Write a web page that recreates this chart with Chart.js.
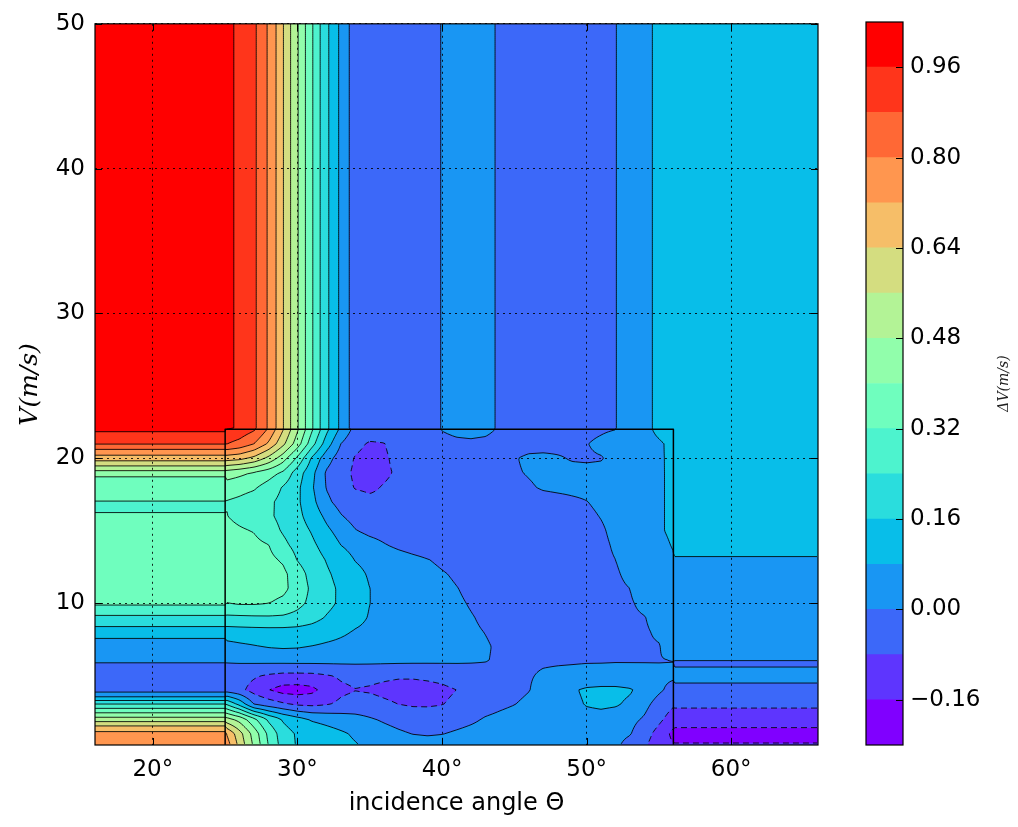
<!DOCTYPE html>
<html>
<head>
<meta charset="utf-8">
<title>dV contour</title>
<script src="https://cdn.jsdelivr.net/npm/chart.js@4.4.1/dist/chart.umd.min.js"></script>
<style>
  html, body { margin: 0; padding: 0; background: #fff; }
  #page { position: relative; width: 1018px; height: 827px; }
  #main { position: absolute; left: 0; top: 0; }
  #bar { position: absolute; left: 840px; top: 0; }
</style>
</head>
<body>
<div id="page">
  <canvas id="main" width="840" height="827"></canvas>
  <canvas id="bar" width="178" height="827"></canvas>
</div>
<script>
// axis ticks
const angleTicks = [20, 30, 40, 50, 60];
const speedTicks = [10, 20, 30, 40, 50];

// contour levels and colorbar ticks
const levels = [-0.24, -0.16, -0.08, 0, 0.08, 0.16, 0.24, 0.32, 0.40, 0.48, 0.56, 0.64, 0.72, 0.80, 0.88, 0.96, 1.04];
const cbTicks = [-0.16, 0, 0.16, 0.32, 0.48, 0.64, 0.80, 0.96];

// measured box (angle / speed range of the data)
const boxAngle = [25, 56];
const boxSpeed = [0, 22];

// above the box: dV depends on angle only
const topAngle = [16, 25, 25.5, 26, 26.5, 27, 27.5, 28, 28.5, 29, 29.5, 30, 30.5, 31, 31.5, 32, 32.5, 33, 33.5, 34, 35, 37, 39, 40, 41, 43, 44, 46, 50, 52, 53, 54, 55, 56, 66];
const topDv = [1.0, 0.99, 0.965, 0.94, 0.917, 0.893, 0.85, 0.788, 0.724, 0.645, 0.564, 0.488, 0.408, 0.33, 0.25, 0.18, 0.12, 0.063, 0.005, -0.025, -0.04, -0.045, -0.02, 0.002, 0.015, 0.012, -0.006, -0.03, -0.03, -0.002, 0.03, 0.062, 0.095, 0.12, 0.12];

// left of the box: dV depends on speed only
const leftSpeed = [0.2, 0.5, 1, 1.5, 2, 2.5, 3, 3.5, 4, 4.5, 5, 5.5, 6, 6.5, 7, 7.5, 8, 8.5, 9, 9.5, 10, 11, 12, 13, 14, 15, 16, 16.5, 17, 17.5, 18, 18.5, 19, 19.5, 20, 20.5, 21, 21.5, 22];
const leftDv = [0.78, 0.765, 0.745, 0.645, 0.51, 0.38, 0.25, 0.085, -0.035, -0.04, -0.035, -0.015, 0.005, 0.03, 0.052, 0.074, 0.12, 0.173, 0.223, 0.28, 0.335, 0.36, 0.37, 0.37, 0.36, 0.35, 0.33, 0.31, 0.318, 0.34, 0.355, 0.365, 0.445, 0.567, 0.68, 0.775, 0.885, 0.93, 0.975];

// right of the box: dV depends on speed only
const rightSpeed = [0.2, 0.5, 1, 1.5, 2, 2.5, 3, 3.5, 4, 4.5, 5, 5.5, 5.75, 6, 6.5, 7, 9, 11, 13, 14, 16, 22];
const rightDv = [-0.15, -0.172, -0.18, -0.155, -0.12, -0.09, -0.07, -0.05, -0.025, 0.002, 0.012, 0.002, -0.004, -0.001, 0.012, 0.02, 0.04, 0.06, 0.076, 0.095, 0.11, 0.12];

// inside the box: dV on an angle x speed grid (rows = speed 0..22)
const gridAngle = [25, 26, 27, 28, 29, 30, 31, 32, 33, 34, 35, 36, 37, 38, 39, 40, 41, 42, 43, 44, 45, 46, 47, 48, 49, 50, 51, 52, 53, 54, 55, 56];
const gridSpeed = [0, 1, 2, 3, 4, 5, 6, 7, 8, 9, 10, 11, 12, 13, 14, 15, 16, 17, 18, 19, 20, 21, 22];
const gridDv = [
  [0.79, 0.62, 0.469, 0.32, 0.208, 0.153, 0.137, 0.121, 0.104, 0.088, 0.075, 0.065, 0.055, 0.045, 0.04, 0.04, 0.045, 0.048, 0.05, 0.05, 0.048, 0.045, 0.042, 0.04, 0.037, 0.033, 0.027, 0.01, -0.03, -0.075, -0.13, -0.15],
  [0.73, 0.588, 0.445, 0.30, 0.196, 0.15, 0.13, 0.11, 0.09, 0.07, 0.045, 0.025, 0.01, -0.003, -0.008, -0.003, 0.008, 0.018, 0.025, 0.03, 0.035, 0.035, 0.035, 0.035, 0.035, 0.035, 0.03, 0.02, 0.005, -0.045, -0.11, -0.18],
  [0.51, 0.447, 0.335, 0.222, 0.149, 0.103, 0.07, 0.055, 0.04, 0.025, 0.006, -0.01, -0.025, -0.035, -0.04, -0.035, -0.025, -0.012, 0.005, 0.015, 0.025, 0.03, 0.035, 0.04, 0.045, 0.05, 0.05, 0.04, 0.02, -0.008, -0.06, -0.12],
  [0.25, 0.14, 0.0, -0.035, -0.065, -0.09, -0.095, -0.085, -0.065, -0.05, -0.05, -0.065, -0.08, -0.088, -0.088, -0.082, -0.065, -0.045, -0.025, -0.012, -0.001, 0.012, 0.025, 0.04, 0.06, 0.085, 0.095, 0.088, 0.065, 0.02, -0.03, -0.07],
  [-0.035, -0.06, -0.11, -0.158, -0.19, -0.195, -0.18, -0.13, -0.095, -0.082, -0.088, -0.1, -0.11, -0.11, -0.105, -0.095, -0.08, -0.06, -0.04, -0.025, -0.015, -0.002, 0.02, 0.045, 0.07, 0.093, 0.1, 0.1, 0.088, 0.05, 0.012, -0.025],
  [-0.035, -0.05, -0.07, -0.088, -0.1, -0.1, -0.098, -0.085, -0.07, -0.06, -0.06, -0.065, -0.07, -0.07, -0.065, -0.058, -0.045, -0.035, -0.027, -0.02, -0.012, -0.004, 0.006, 0.01, 0.012, 0.015, 0.017, 0.017, 0.016, 0.015, 0.013, 0.012],
  [0.005, 0.01, 0.014, 0.017, 0.019, 0.02, 0.02, 0.019, 0.018, 0.017, 0.016, 0.015, 0.014, 0.013, 0.012, 0.011, 0.009, 0.006, 0.002, -0.006, -0.008, -0.008, -0.006, -0.005, -0.004, -0.003, -0.003, -0.002, -0.002, -0.002, -0.002, -0.001],
  [0.052, 0.065, 0.075, 0.085, 0.09, 0.087, 0.078, 0.07, 0.064, 0.058, 0.053, 0.048, 0.043, 0.038, 0.032, 0.026, 0.019, 0.012, 0.004, -0.006, -0.01, -0.01, -0.01, -0.01, -0.01, -0.01, -0.01, -0.01, -0.008, -0.006, -0.003, 0.03],
  [0.12, 0.125, 0.128, 0.13, 0.13, 0.128, 0.12, 0.105, 0.09, 0.075, 0.067, 0.059, 0.05, 0.041, 0.033, 0.024, 0.016, 0.007, -0.001, -0.01, -0.015, -0.015, -0.015, -0.015, -0.013, -0.012, -0.01, -0.009, -0.008, -0.006, 0.008, 0.04],
  [0.223, 0.225, 0.228, 0.23, 0.228, 0.215, 0.19, 0.154, 0.126, 0.097, 0.076, 0.065, 0.055, 0.045, 0.034, 0.024, 0.013, 0.003, -0.008, -0.015, -0.02, -0.02, -0.02, -0.02, -0.018, -0.015, -0.012, -0.01, -0.008, -0.002, 0.02, 0.05],
  [0.318, 0.33, 0.33, 0.322, 0.3, 0.262, 0.221, 0.183, 0.147, 0.113, 0.08, 0.068, 0.056, 0.044, 0.032, 0.02, 0.008, -0.004, -0.015, -0.02, -0.025, -0.025, -0.025, -0.022, -0.02, -0.017, -0.014, -0.01, -0.005, 0.012, 0.035, 0.058],
  [0.37, 0.37, 0.365, 0.355, 0.34, 0.285, 0.226, 0.184, 0.147, 0.113, 0.08, 0.067, 0.054, 0.041, 0.028, 0.015, 0.002, -0.012, -0.02, -0.028, -0.03, -0.03, -0.03, -0.028, -0.025, -0.02, -0.015, -0.01, 0.0, 0.03, 0.05, 0.066],
  [0.37, 0.37, 0.365, 0.355, 0.34, 0.275, 0.214, 0.172, 0.135, 0.098, 0.073, 0.06, 0.046, 0.033, 0.019, 0.005, -0.008, -0.018, -0.025, -0.03, -0.035, -0.035, -0.035, -0.03, -0.025, -0.02, -0.012, -0.006, 0.012, 0.035, 0.055, 0.072],
  [0.365, 0.36, 0.355, 0.34, 0.309, 0.236, 0.196, 0.156, 0.114, 0.077, 0.062, 0.047, 0.032, 0.017, 0.002, -0.012, -0.022, -0.03, -0.035, -0.04, -0.04, -0.04, -0.035, -0.03, -0.025, -0.018, -0.01, 0.0, 0.02, 0.04, 0.06, 0.076],
  [0.355, 0.35, 0.34, 0.322, 0.26, 0.213, 0.175, 0.13, 0.08, 0.055, 0.03, 0.005, -0.015, -0.03, -0.04, -0.045, -0.05, -0.05, -0.05, -0.05, -0.045, -0.04, -0.035, -0.03, -0.025, -0.02, -0.01, 0.006, 0.025, 0.045, 0.068, 0.083],
  [0.345, 0.33, 0.316, 0.274, 0.232, 0.194, 0.154, 0.097, 0.049, 0.004, -0.02, -0.03, -0.04, -0.045, -0.05, -0.05, -0.05, -0.05, -0.05, -0.05, -0.045, -0.04, -0.035, -0.03, -0.025, -0.02, -0.006, 0.012, 0.03, 0.048, 0.075, 0.088],
  [0.325, 0.299, 0.275, 0.252, 0.22, 0.18, 0.127, 0.063, 0.006, -0.03, -0.045, -0.05, -0.05, -0.05, -0.05, -0.05, -0.05, -0.045, -0.045, -0.04, -0.04, -0.035, -0.03, -0.025, -0.02, -0.01, 0.002, 0.015, 0.03, 0.048, 0.075, 0.088],
  [0.318, 0.305, 0.285, 0.255, 0.218, 0.173, 0.104, 0.018, -0.03, -0.05, -0.065, -0.065, -0.06, -0.055, -0.05, -0.045, -0.045, -0.04, -0.035, -0.03, -0.03, -0.025, -0.02, -0.015, -0.008, -0.001, 0.01, 0.018, 0.033, 0.05, 0.075, 0.088],
  [0.36, 0.345, 0.33, 0.288, 0.234, 0.177, 0.09, -0.004, -0.045, -0.085, -0.092, -0.075, -0.06, -0.05, -0.045, -0.04, -0.04, -0.035, -0.03, -0.025, -0.018, -0.006, 0.006, 0.01, 0.012, 0.013, 0.014, 0.02, 0.035, 0.055, 0.075, 0.088],
  [0.445, 0.42, 0.392, 0.355, 0.307, 0.2, 0.103, -0.01, -0.055, -0.092, -0.105, -0.092, -0.07, -0.05, -0.04, -0.035, -0.035, -0.032, -0.025, -0.018, -0.006, 0.004, 0.012, 0.015, 0.014, 0.013, 0.013, 0.02, 0.035, 0.055, 0.075, 0.088],
  [0.68, 0.664, 0.618, 0.538, 0.435, 0.304, 0.149, 0.034, -0.04, -0.085, -0.105, -0.09, -0.06, -0.045, -0.035, -0.03, -0.03, -0.03, -0.025, -0.015, -0.004, 0.01, 0.012, 0.005, -0.004, -0.006, -0.003, 0.012, 0.035, 0.055, 0.074, 0.09],
  [0.885, 0.855, 0.80, 0.708, 0.58, 0.438, 0.272, 0.122, 0.0, -0.06, -0.088, -0.082, -0.05, -0.035, -0.025, -0.015, -0.01, -0.008, -0.012, -0.02, -0.025, -0.022, -0.02, -0.016, -0.01, -0.002, 0.012, 0.03, 0.045, 0.058, 0.072, 0.095],
  [0.95, 0.93, 0.89, 0.79, 0.645, 0.49, 0.33, 0.18, 0.063, -0.025, -0.04, -0.045, -0.045, -0.035, -0.02, 0.002, 0.012, 0.015, 0.012, -0.006, -0.02, -0.03, -0.03, -0.03, -0.025, -0.015, -0.008, -0.001, 0.03, 0.062, 0.095, 0.12]
];

const tickFont = { family: 'DejaVu Sans', size: 23 };
const labelFont = { family: 'DejaVu Sans', size: 24 };

// ---- field lookup ----
function locate(arr, v) {
  let lo = 0, hi = arr.length - 1;
  if (v <= arr[0]) return 0;
  if (v >= arr[hi]) return hi - 1;
  while (hi - lo > 1) {
    const mid = (lo + hi) >> 1;
    if (arr[mid] <= v) lo = mid; else hi = mid;
  }
  return lo;
}
const clamp01 = t => Math.max(0, Math.min(1, t));

function interp1(xs, vs, v) {
  const i = locate(xs, v);
  const t = clamp01((v - xs[i]) / (xs[i + 1] - xs[i]));
  return vs[i] + t * (vs[i + 1] - vs[i]);
}

function gridValue(a, s) {
  const i = locate(gridAngle, a), j = locate(gridSpeed, s);
  const tx = clamp01((a - gridAngle[i]) / (gridAngle[i + 1] - gridAngle[i]));
  const ty = clamp01((s - gridSpeed[j]) / (gridSpeed[j + 1] - gridSpeed[j]));
  const r0 = gridDv[j], r1 = gridDv[j + 1];
  return (1 - ty) * ((1 - tx) * r0[i] + tx * r0[i + 1]) + ty * ((1 - tx) * r1[i] + tx * r1[i + 1]);
}

function dvAt(a, s) {
  if (s >= boxSpeed[1]) return interp1(topAngle, topDv, a);
  if (a <= boxAngle[0]) return interp1(leftSpeed, leftDv, s);
  if (a >= boxAngle[1]) return interp1(rightSpeed, rightDv, s);
  return gridValue(a, s);
}

// matplotlib "rainbow" colormap
function rainbow(t) {
  const r = Math.min(1, Math.abs(2 * t - 0.5));
  const g = Math.max(0, Math.sin(Math.PI * t));
  const b = Math.max(0, Math.cos(Math.PI * t / 2));
  return [Math.round(255 * r), Math.round(255 * g), Math.round(255 * b)];
}
const nBands = levels.length - 1;
const bandRGB = levels.slice(0, -1).map((_, i) => rainbow(i / (nBands - 1)));
const bandCss = bandRGB.map(c => `rgb(${c[0]},${c[1]},${c[2]})`);

// ---- marching squares, chained into polylines ----
function traceLevel(F, nx, ny, L) {
  const pts = new Map(), links = new Map();
  const nH = nx * ny;
  function pt(id, i0, j0, i1, j1) {
    if (!pts.has(id)) {
      const v0 = F[j0 * nx + i0], v1 = F[j1 * nx + i1];
      const t = (L - v0) / (v1 - v0);
      pts.set(id, [i0 + t * (i1 - i0), j0 + t * (j1 - j0)]);
    }
    return id;
  }
  function link(p, q) {
    if (!links.has(p)) links.set(p, []);
    if (!links.has(q)) links.set(q, []);
    links.get(p).push(q);
    links.get(q).push(p);
  }
  for (let j = 0; j < ny - 1; j++) {
    for (let i = 0; i < nx - 1; i++) {
      const va = F[j * nx + i], vb = F[j * nx + i + 1], vc = F[(j + 1) * nx + i + 1], vd = F[(j + 1) * nx + i];
      const a = va > L, b = vb > L, c = vc > L, d = vd > L;
      if (a === b && b === c && c === d) continue;
      const T = a !== b ? pt(j * nx + i, i, j, i + 1, j) : -1;
      const R = b !== c ? pt(nH + j * nx + i + 1, i + 1, j, i + 1, j + 1) : -1;
      const B = c !== d ? pt((j + 1) * nx + i, i, j + 1, i + 1, j + 1) : -1;
      const W = d !== a ? pt(nH + j * nx + i, i, j, i, j + 1) : -1;
      const e = [T, R, B, W].filter(v => v >= 0);
      if (e.length === 2) link(e[0], e[1]);
      else if (e.length === 4) {
        const center = (va + vb + vc + vd) / 4 > L;
        if (center === a) { link(T, R); link(B, W); } else { link(T, W); link(R, B); }
      }
    }
  }
  const used = new Set(), lines = [];
  function walk(start) {
    const line = [start];
    used.add(start);
    let cur = start;
    for (;;) {
      const nb = links.get(cur).find(n => !used.has(n));
      if (nb === undefined) break;
      used.add(nb); line.push(nb); cur = nb;
    }
    return line;
  }
  for (const [id, nb] of links) if (nb.length === 1 && !used.has(id)) lines.push(walk(id));
  for (const id of links.keys()) {
    if (!used.has(id)) { const l = walk(id); l.push(l[0]); lines.push(l); }
  }
  return lines.map(l => l.map(id => pts.get(id)));
}

// ---- plugins ----
const contourPlugin = {
  id: 'contourFill',
  beforeDatasetsDraw(chart) {
    const { ctx, chartArea: area, scales: { x, y } } = chart;
    const w = Math.round(area.right - area.left), h = Math.round(area.bottom - area.top);
    const img = ctx.createImageData(w, h);
    const colA = new Float64Array(w);
    for (let i = 0; i < w; i++) colA[i] = x.getValueForPixel(area.left + i + 0.5);
    for (let j = 0; j < h; j++) {
      const s = y.getValueForPixel(area.top + j + 0.5);
      for (let i = 0; i < w; i++) {
        const v = dvAt(colA[i], s);
        const k = Math.min(nBands - 1, locate(levels, v));
        const c = bandRGB[k], o = (j * w + i) * 4;
        img.data[o] = c[0]; img.data[o + 1] = c[1]; img.data[o + 2] = c[2]; img.data[o + 3] = 255;
      }
    }
    ctx.putImageData(img, Math.round(area.left), Math.round(area.top));

    // contour lines
    const step = 2;
    const nx = Math.floor(w / step) + 1, ny = Math.floor(h / step) + 1;
    const F = new Float64Array(nx * ny);
    for (let j = 0; j < ny; j++) {
      const s = y.getValueForPixel(area.top + Math.min(j * step, h));
      for (let i = 0; i < nx; i++) {
        F[j * nx + i] = dvAt(x.getValueForPixel(area.left + Math.min(i * step, w)), s);
      }
    }
    ctx.save();
    ctx.beginPath();
    ctx.rect(area.left, area.top, w, h);
    ctx.clip();
    ctx.strokeStyle = 'rgba(0,0,0,0.85)';
    ctx.lineWidth = 1;
    ctx.lineJoin = 'round';
    levels.slice(1, -1).forEach(L => {
      ctx.setLineDash(L < 0 ? [6, 4] : []);
      traceLevel(F, nx, ny, L).forEach(line => {
        ctx.beginPath();
        line.forEach((p, k) => {
          const px = area.left + p[0] * step, py = area.top + p[1] * step;
          if (k === 0) ctx.moveTo(px, py); else ctx.lineTo(px, py);
        });
        ctx.stroke();
      });
    });
    ctx.setLineDash([]);

    // outline of the measured box
    ctx.strokeStyle = '#000';
    ctx.lineWidth = 1.5;
    const bx0 = x.getPixelForValue(boxAngle[0]), bx1 = x.getPixelForValue(boxAngle[1]);
    const by0 = y.getPixelForValue(boxSpeed[0]), by1 = y.getPixelForValue(boxSpeed[1]);
    ctx.strokeRect(bx0, by1, bx1 - bx0, by0 - by1);
    ctx.restore();
  }
};

const framePlugin = {
  id: 'frame',
  afterDraw(chart) {
    const { ctx, chartArea: area, scales: { x, y } } = chart;
    ctx.save();
    ctx.strokeStyle = '#000';
    ctx.lineWidth = 1;
    ctx.beginPath();
    angleTicks.forEach(v => {
      const px = Math.round(x.getPixelForValue(v)) + 0.5;
      ctx.moveTo(px, area.bottom); ctx.lineTo(px, area.bottom - 7);
      ctx.moveTo(px, area.top); ctx.lineTo(px, area.top + 7);
    });
    speedTicks.forEach(v => {
      const py = Math.round(y.getPixelForValue(v)) + 0.5;
      ctx.moveTo(area.left, py); ctx.lineTo(area.left + 7, py);
      ctx.moveTo(area.right, py); ctx.lineTo(area.right - 7, py);
    });
    ctx.stroke();
    ctx.lineWidth = 1.2;
    ctx.strokeRect(area.left, area.top, area.right - area.left, area.bottom - area.top);
    ctx.restore();
  }
};

new Chart(document.getElementById('main'), {
  type: 'scatter',
  data: { datasets: [] },
  options: {
    responsive: false,
    animation: false,
    events: [],
    layout: { padding: { left: 0, top: 22, right: 22, bottom: 0 } },
    plugins: { legend: { display: false }, tooltip: { enabled: false } },
    scales: {
      x: {
        type: 'linear', min: 16, max: 66,
        afterBuildTicks: s => { s.ticks = angleTicks.map(v => ({ value: v })); },
        afterFit: s => { s.height = 82; },
        grid: { color: 'rgba(0,0,0,0.85)', lineWidth: 1, drawTicks: false, z: 1 },
        border: { display: false, dash: [2, 4] },
        ticks: { padding: 11, color: '#000', font: tickFont, maxRotation: 0, callback: v => v + '°' },
        title: { display: true, text: 'incidence angle Θ', color: '#000', font: labelFont, padding: { top: 0, bottom: 9 } }
      },
      y: {
        type: 'linear', min: 0.2, max: 50,
        afterBuildTicks: s => { s.ticks = speedTicks.map(v => ({ value: v })); },
        afterFit: s => { s.width = 95; },
        grid: { color: 'rgba(0,0,0,0.85)', lineWidth: 1, drawTicks: false, z: 1 },
        border: { display: false, dash: [2, 4] },
        ticks: { padding: 10, color: '#000', font: tickFont, callback: v => String(v) },
        title: { display: true, text: 'V(m/s)', color: '#000', font: { family: 'DejaVu Serif', size: 25, style: 'italic' }, padding: { top: 15, bottom: 0 } }
      }
    }
  },
  plugins: [contourPlugin, framePlugin]
});

// ---- colorbar ----
const colorbarFrame = {
  id: 'cbFrame',
  afterDraw(chart) {
    const { ctx, chartArea: area, scales: { y } } = chart;
    ctx.save();
    ctx.strokeStyle = '#000';
    ctx.lineWidth = 1;
    ctx.beginPath();
    cbTicks.forEach(v => {
      const py = Math.round(y.getPixelForValue(v)) + 0.5;
      ctx.moveTo(area.right, py); ctx.lineTo(area.right - 7, py);
    });
    ctx.stroke();
    ctx.lineWidth = 1.2;
    ctx.strokeRect(area.left, area.top, area.right - area.left, area.bottom - area.top);
    ctx.translate(164, (area.top + area.bottom) / 2);
    ctx.rotate(-Math.PI / 2);
    ctx.fillStyle = '#222';
    ctx.font = 'italic 14px "DejaVu Serif"';
    ctx.textAlign = 'center';
    ctx.textBaseline = 'middle';
    ctx.fillText('ΔV(m/s)', 0, 0);
    ctx.restore();
  }
};

new Chart(document.getElementById('bar'), {
  type: 'bar',
  data: {
    labels: [''],
    datasets: levels.slice(0, -1).map((lo, i) => ({
      data: [[lo, levels[i + 1]]],
      backgroundColor: bandCss[i],
      borderWidth: 0,
      barPercentage: 1,
      categoryPercentage: 1,
      grouped: false
    }))
  },
  options: {
    responsive: false,
    animation: false,
    events: [],
    layout: { padding: { left: 26, top: 22, right: 0, bottom: 82 } },
    plugins: { legend: { display: false }, tooltip: { enabled: false } },
    scales: {
      x: { display: false },
      y: {
        position: 'right', min: -0.24, max: 1.04,
        afterBuildTicks: s => { s.ticks = cbTicks.map(v => ({ value: v })); },
        afterFit: s => { s.width = 115; },
        grid: { display: false, drawTicks: false },
        border: { display: false },
        ticks: { padding: 7, color: '#000', font: tickFont, callback: v => (v < 0 ? '\u2212' : '') + Math.abs(v).toFixed(2) }
      }
    }
  },
  plugins: [colorbarFrame]
});
</script>
</body>
</html>
